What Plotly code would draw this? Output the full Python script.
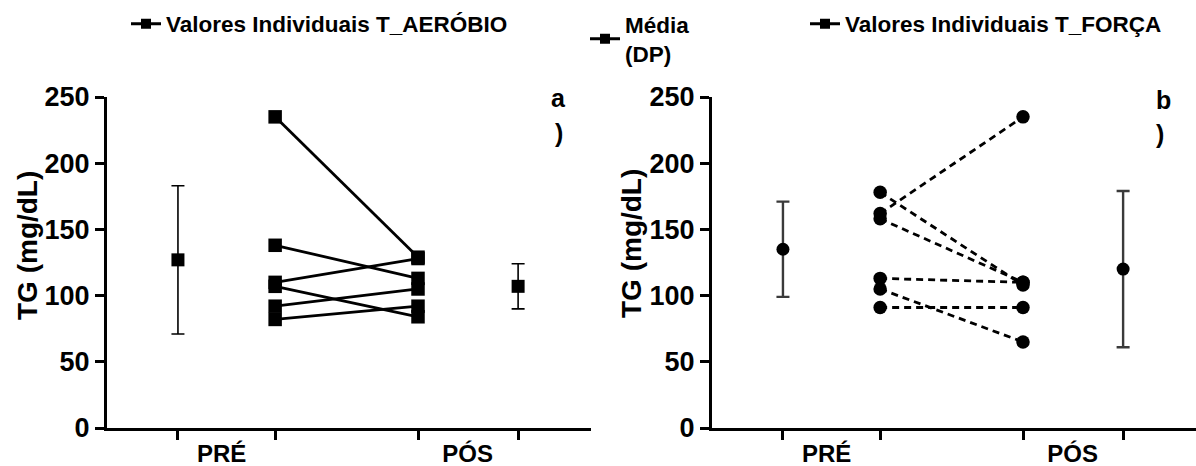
import plotly.graph_objects as go

# Figure fills the whole 1196x466 window (body margin removed in post_script)
W, H = 1196, 466


def px(x):
    return x / W


def py(y):
    return 1 - y / H


# ---- data -------------------------------------------------------------
# column positions on the x axis: mean PRÉ, individual PRÉ, individual PÓS, mean PÓS
col_pos = [0, 1, 2.47, 3.5]
tick_label_pos = [0.45, 2.98]
tick_labels = ["PRÉ", "PÓS"]
y_ticks = [0, 50, 100, 150, 200, 250]

# panel a) T_AERÓBIO
aer_pre = [235, 138, 110, 107, 92, 82]
aer_pos = [129, 113, 128, 84, 105, 92]
aer_mean = [127, 107]
aer_sd = [56, 17]

# panel b) T_FORÇA
for_pre = [178, 162, 158, 113, 105, 91]
for_pos = [108, 235, 110, 110, 65, 91]
for_mean = [135, 120]
for_sd = [36, 59]

legend_names = ["Valores Individuais T_AERÓBIO", "Média<br>(DP)", "Valores Individuais T_FORÇA"]

FONT = "Liberation Sans, Arial, sans-serif"

fig = go.Figure()

# ---- panel a -----------------------------------------------------------
fig.add_trace(go.Scatter(
    x=[col_pos[0], col_pos[3]], y=aer_mean, mode="markers",
    marker=dict(symbol="square", size=13, color="black"),
    error_y=dict(type="data", array=aer_sd, thickness=1.6, width=6.5, color="black"),
    xaxis="x", yaxis="y", showlegend=False))
for p0, p1 in zip(aer_pre, aer_pos):
    fig.add_trace(go.Scatter(
        x=[col_pos[1], col_pos[2]], y=[p0, p1], mode="lines+markers",
        line=dict(color="black", width=2.8),
        marker=dict(symbol="square", size=13.5, color="black"),
        xaxis="x", yaxis="y", showlegend=False))

# ---- panel b -----------------------------------------------------------
fig.add_trace(go.Scatter(
    x=[col_pos[0], col_pos[3]], y=for_mean, mode="markers",
    marker=dict(symbol="circle", size=13, color="black"),
    error_y=dict(type="data", array=for_sd, thickness=2.4, width=6.5, color="#3a3a3a"),
    xaxis="x2", yaxis="y2", showlegend=False))
for p0, p1 in zip(for_pre, for_pos):
    fig.add_trace(go.Scatter(
        x=[col_pos[1], col_pos[2]], y=[p0, p1], mode="lines+markers",
        line=dict(color="black", width=2.8, dash="7px,5px"),
        marker=dict(symbol="circle", size=13.5, color="black"),
        xaxis="x2", yaxis="y2", showlegend=False))

# ---- legend entries ----------------------------------------------------
for name, lg in zip(legend_names, ["legend", "legend2", "legend3"]):
    fig.add_trace(go.Scatter(
        x=[None], y=[None], mode="lines+markers", name=name,
        line=dict(color="black", width=3),
        marker=dict(symbol="square", size=10, color="black"),
        legend=lg, showlegend=True, xaxis="x", yaxis="y"))

legend_common = dict(font=dict(family=FONT, size=22.5, color="black", weight="bold"),
                     bgcolor="rgba(0,0,0,0)", borderwidth=0,
                     xanchor="left", yanchor="middle", orientation="v")

xaxis_common = dict(
    range=[-0.73, 4.25], showline=True, linecolor="black", linewidth=3,
    tickmode="array", tickvals=tick_label_pos, ticktext=tick_labels,
    ticks="", ticklabelstandoff=2, showgrid=False, zeroline=False,
    tickfont=dict(family=FONT, size=24, color="black", weight="bold"),
    minor=dict(tickmode="array", tickvals=col_pos, ticks="outside",
               ticklen=9, tickwidth=2.5, tickcolor="black", showgrid=False),
    fixedrange=True, automargin=False)

yaxis_common = dict(
    range=[0, 250], showline=True, linecolor="black", linewidth=3,
    tickmode="array", tickvals=y_ticks, ticks="outside", ticklen=9,
    tickwidth=3, tickcolor="black", showgrid=False, zeroline=False,
    tickfont=dict(family=FONT, size=27, color="black", weight="bold"),
    domain=[py(428), py(97)], automargin=False, fixedrange=True)

ann_font = dict(family=FONT, size=28, color="black", weight="bold")
letter_font = dict(family=FONT, size=25, color="black", weight="bold")


def letter(text, x, y):
    return dict(text=text, x=px(x), y=py(y), xref="paper", yref="paper",
                xanchor="center", yanchor="middle", showarrow=False, font=letter_font)


fig.update_layout(
    width=W, height=H,
    margin=dict(l=0, r=0, t=0, b=0, pad=0),
    plot_bgcolor="white", paper_bgcolor="white",
    xaxis=dict(domain=[px(107), px(591)], anchor="y", **xaxis_common),
    yaxis=dict(anchor="x", **yaxis_common),
    xaxis2=dict(domain=[px(712), 1.0], anchor="y2", **xaxis_common),
    yaxis2=dict(anchor="x2", **yaxis_common),
    legend=dict(x=px(166 - 40), y=py(24), **legend_common),
    legend2=dict(x=px(625 - 40), y=py(39), **legend_common),
    legend3=dict(x=px(845 - 40), y=py(24), **legend_common),
    annotations=[
        dict(text="TG (mg/dL)", textangle=-90, x=px(27), y=py(246),
             xref="paper", yref="paper", showarrow=False, font=ann_font,
             xanchor="center", yanchor="middle"),
        dict(text="TG (mg/dL)", textangle=-90, x=px(631), y=py(244),
             xref="paper", yref="paper", showarrow=False, font=ann_font,
             xanchor="center", yanchor="middle"),
        letter("a", 558, 98),
        letter(")", 559, 133),
        letter("b", 1163, 100),
        letter(")", 1160, 134),
    ],
)

fig.write_html(
    "out.html",
    config={"displayModeBar": False},
    post_script="document.body.style.margin='0';document.body.style.overflow='hidden';",
)
